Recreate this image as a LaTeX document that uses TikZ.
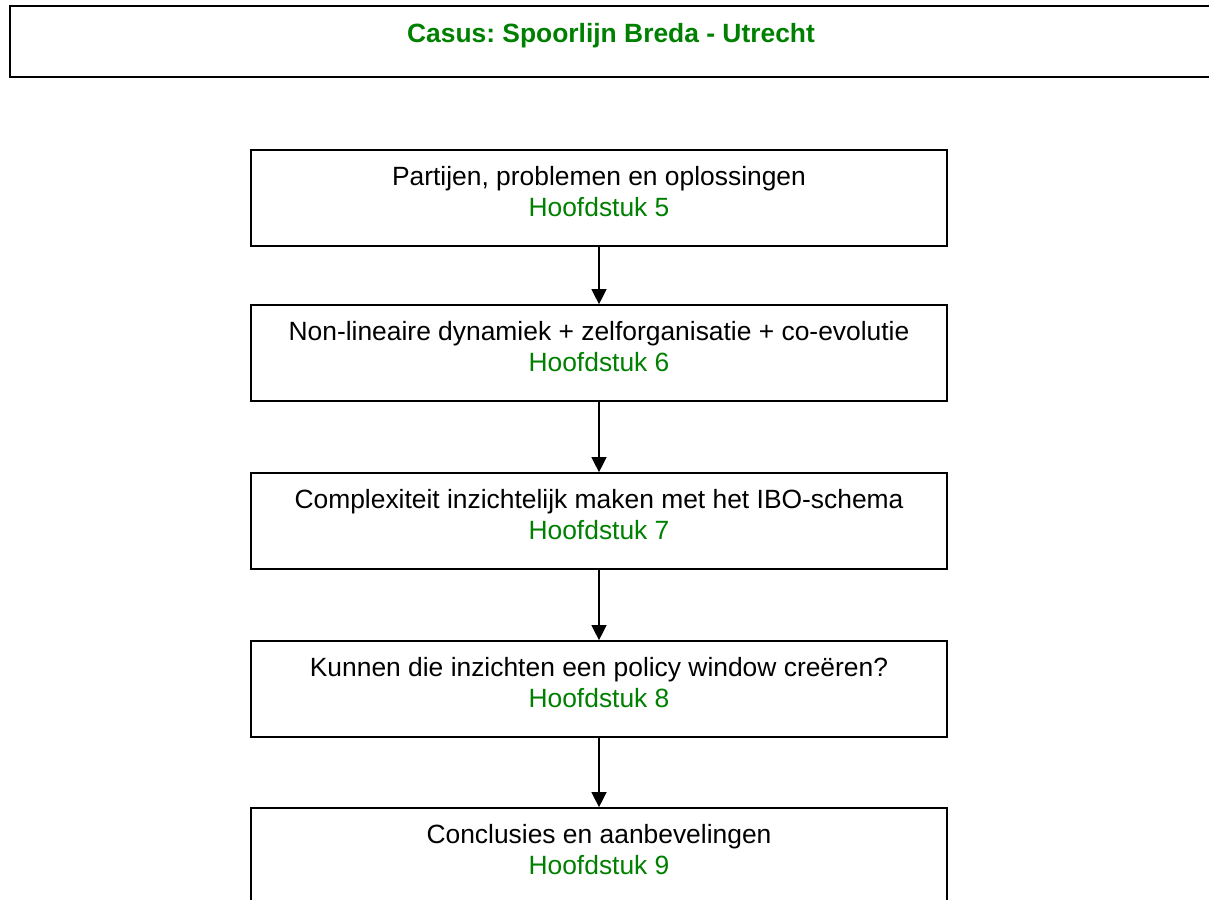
\documentclass[tikz,border=0pt]{standalone}
\usepackage{fontspec}
\setmainfont{Liberation Sans}
\usetikzlibrary{arrows.meta}
\definecolor{hgreen}{RGB}{0,128,0}
\frenchspacing
\tikzset{
  stepbox/.style={draw=black, line width=1.7pt, minimum width=696pt, minimum height=96pt, inner sep=0pt},
  topbox/.style={draw=black, line width=2.2pt, minimum width=1202pt, minimum height=71pt, inner sep=0pt},
  maintext/.style={anchor=base, inner sep=0pt, font=\fontsize{26.4}{31}\selectfont, text=black},
  chaptext/.style={anchor=base, inner sep=0pt, font=\fontsize{26.4}{31}\selectfont, text=hgreen},
  titletext/.style={anchor=base, inner sep=0pt, font=\fontsize{26.4}{31}\selectfont\bfseries, text=hgreen},
  flow/.style={draw=black, line width=1.3pt, -{Triangle[length=15pt,width=15pt]}}
}
\begin{document}
\begin{tikzpicture}[x=1pt,y=-1pt]
\useasboundingbox (0,0) rectangle (1209,899);
\fill[white] (0,0) rectangle (1209,899);
% top title box
\node[topbox] (top) at (611,41.5) {};
\node[titletext] (title) at (611,42) {Casus: Spoorlijn Breda - Utrecht};
% step boxes
\node[stepbox] (b1) at (599,198) {};
\node[stepbox] (b2) at (599,353) {};
\node[stepbox] (b3) at (599,521) {};
\node[stepbox] (b4) at (599,689) {};
\node[stepbox] (b5) at (599,856) {};
% texts
\node[maintext] (t1) at ([yshift=-36pt]b1.north) {Partijen, problemen en oplossingen};
\node[chaptext] (c1) at ([yshift=-67pt]b1.north) {Hoofdstuk 5};
\node[maintext] (t2) at ([yshift=-36pt]b2.north) {Non-lineaire dynamiek + zelforganisatie + co-evolutie};
\node[chaptext] (c2) at ([yshift=-67pt]b2.north) {Hoofdstuk 6};
\node[maintext] (t3) at ([yshift=-36pt]b3.north) {Complexiteit inzichtelijk maken met het IBO-schema};
\node[chaptext] (c3) at ([yshift=-67pt]b3.north) {Hoofdstuk 7};
\node[maintext] (t4) at ([yshift=-36pt]b4.north) {Kunnen die inzichten een policy window creëren?};
\node[chaptext] (c4) at ([yshift=-67pt]b4.north) {Hoofdstuk 8};
\node[maintext] (t5) at ([yshift=-36pt]b5.north) {Conclusies en aanbevelingen};
\node[chaptext] (c5) at ([yshift=-67pt]b5.north) {Hoofdstuk 9};
% connectors
\draw[flow] (b1.south) -- (b2.north);
\draw[flow] (b2.south) -- (b3.north);
\draw[flow] (b3.south) -- (b4.north);
\draw[flow] (b4.south) -- (b5.north);
\end{tikzpicture}
\end{document}
